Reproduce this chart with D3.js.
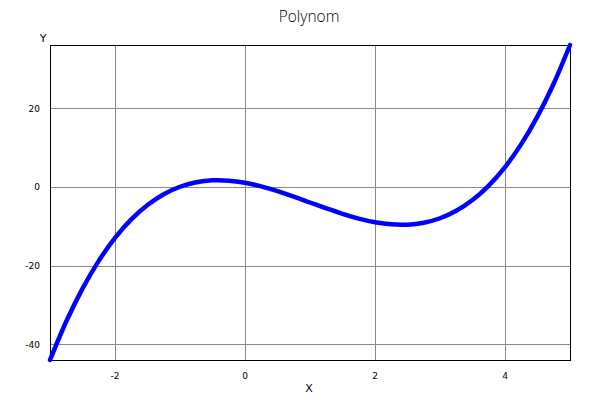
<!DOCTYPE html>
<html><head><meta charset="utf-8">
<script src="https://cdn.jsdelivr.net/npm/d3@7"></script>
<style>body{margin:0;background:#fff}</style>
</head><body>
<svg id="c" width="600" height="400"></svg>
<script>
const xValues = [-3,-2.75,-2.5,-2.25,-2,-1.75,-1.5,-1.25,-1,-0.75,-0.5,-0.25,0,0.25,0.5,0.75,1,1.25,1.5,1.75,2,2.25,2.5,2.75,3,3.25,3.5,3.75,4,4.25,4.5,4.75,5];
const yValues = [-44,-34.23,-25.88,-18.83,-13,-8.3,-4.63,-1.89,0,1.14,1.63,1.55,1,0.08,-1.13,-2.52,-4,-5.48,-6.88,-8.08,-9,-9.55,-9.63,-9.14,-8,-6.11,-3.38,0.3,5,10.83,17.88,26.23,36];
const xTicks = [-2,0,2,4];
const yTicks = [-40,-20,0,20];
const title = "Polynom";
const xLabel = "X";
const yLabel = "Y";

const svg = d3.select("#c");
const L=50,R=570,T=45,B=360;
const x = d3.scaleLinear().domain([-3,5]).range([L,R]);
const y = d3.scaleLinear().domain([-44,36]).range([B,T]);

const g = svg.append("g");
g.selectAll(".gx").data(xTicks).enter().append("line")
  .attr("x1",d=>Math.round(x(d))+0.5).attr("x2",d=>Math.round(x(d))+0.5)
  .attr("y1",T).attr("y2",B).attr("stroke","#888").attr("stroke-width",1);
g.selectAll(".gy").data(yTicks).enter().append("line")
  .attr("y1",d=>Math.round(y(d))+0.5).attr("y2",d=>Math.round(y(d))+0.5)
  .attr("x1",L).attr("x2",R).attr("stroke","#888").attr("stroke-width",1);

svg.append("rect").attr("x",L+0.5).attr("y",T+0.5).attr("width",R-L).attr("height",B-T)
  .attr("fill","none").attr("stroke","#000").attr("stroke-width",1);

const font = "DejaVu Sans, sans-serif";
svg.selectAll(".xt").data(xTicks).enter().append("text")
  .attr("x",d=>x(d)).attr("y",379).attr("text-anchor","middle")
  .attr("font-family",font).attr("font-size",9).text(d=>d);
svg.selectAll(".yt").data(yTicks).enter().append("text")
  .attr("x",40).attr("y",d=>y(d)+3.5).attr("text-anchor","end")
  .attr("font-family",font).attr("font-size",9).text(d=>d);

const pts = xValues.map((v,i)=>[v,yValues[i]]);
svg.append("path").datum(pts)
  .attr("d",d3.line().x(d=>x(d[0])).y(d=>y(d[1])).curve(d3.curveCatmullRom.alpha(0.5)))
  .attr("fill","none").attr("stroke","#0000ff").attr("stroke-width",4.5)
  .attr("stroke-linecap","round").attr("stroke-linejoin","round");

svg.append("text").attr("x",309).attr("y",22).attr("text-anchor","middle")
  .attr("font-family","Open Sans, sans-serif").attr("font-weight",300).attr("fill","#000").attr("font-size",15.5).text(title);
svg.append("text").attr("x",309).attr("y",392).attr("text-anchor","middle")
  .attr("font-family",font).attr("font-size",11).text(xLabel);
svg.append("text").attr("x",43).attr("y",42).attr("text-anchor","middle")
  .attr("font-family",font).attr("font-size",11).text(yLabel);
</script>
</body></html>
